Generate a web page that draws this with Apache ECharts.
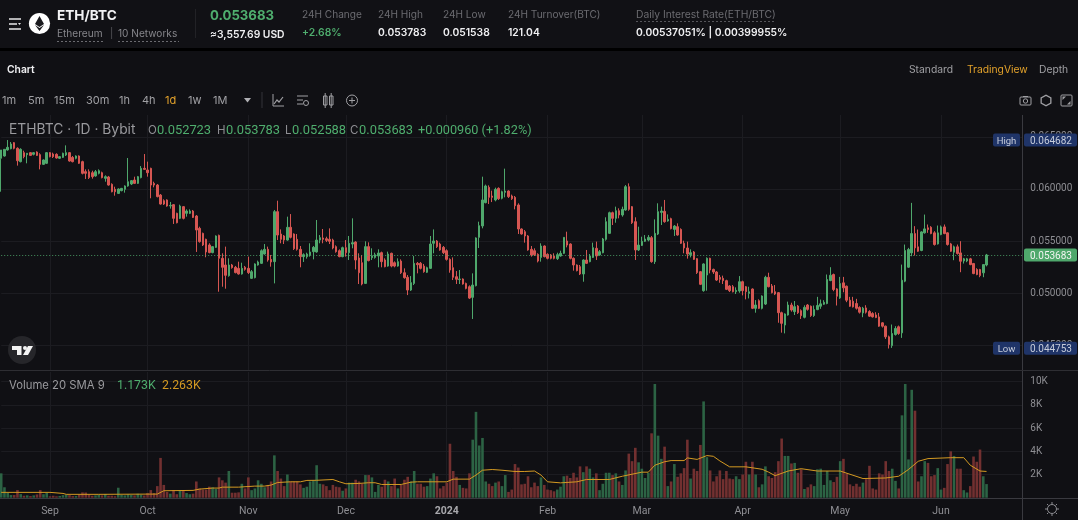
<!DOCTYPE html>
<html><head><meta charset="utf-8">
<style>html,body{margin:0;padding:0;background:#101014}#c{width:1078px;height:520px;filter:blur(0.35px)}</style>
<script src="https://cdn.jsdelivr.net/npm/echarts@6/dist/echarts.min.js"></script>
</head><body><div id="c"></div>
<script>
// prices in 1e-5 BTC, one entry per daily candle starting 2023-08-17
const opens=[6294,6316,6374,6386,6444,6390,6262,6348,6329,6348,
6332,6354,6329,6236,6246,6348,6335,6332,6294,6303,
6326,6348,6303,6294,6316,6262,6166,6166,6156,6125,
6150,6156,6102,6115,6045,5997,5958,5984,5997,6029,
6048,6086,6054,6109,6198,6182,6198,6054,6038,5942,
5888,5895,5837,5850,5767,5719,5831,5767,5767,5789,
5741,5623,5575,5518,5464,5391,5441,5556,5336,5272,
5170,5272,5250,5240,5186,5250,5240,5144,5151,5272,
5288,5377,5422,5326,5304,5783,5569,5550,5511,5633,
5569,5518,5422,5352,5352,5368,5400,5397,5511,5531,
5524,5518,5511,5448,5409,5352,5438,5390,5473,5492,
5339,5294,5096,5448,5342,5345,5358,5390,5320,5262,
5384,5294,5262,5310,5198,5154,5032,5096,5288,5288,
5262,5202,5240,5480,5502,5473,5441,5409,5326,5246,
5160,5132,5138,5096,5064,4962,5074,5537,5646,5869,
6016,5933,5895,6006,5911,5968,5981,5933,5920,5847,
5617,5591,5550,5422,5409,5374,5345,5454,5374,5368,
5358,5333,5358,5384,5502,5473,5336,5272,5256,5186,
5320,5304,5345,5432,5368,5390,5518,5575,5773,5719,
5792,5751,5799,6022,5831,5687,5416,5460,5499,5511,
5534,5304,5569,5776,5786,5694,5716,5613,5639,5613,
5480,5435,5371,5397,5333,5208,5026,5176,5336,5230,
5205,5154,5144,5122,5071,5064,5016,5023,5112,5064,
5000,5042,4857,4930,4857,4898,5154,5071,5016,5007,
4815,4697,4793,4889,4825,4879,4835,4771,4889,4877,
4788,4845,4877,4896,4903,5123,5181,5043,4957,5101,
5069,4935,4925,4903,4865,4813,4861,4826,4807,4794,
4775,4718,4686,4584,4500,4606,4680,4622,5117,5251,
5388,5573,5446,5411,5580,5628,5634,5580,5474,5564,
5637,5580,5474,5395,5446,5388,5311,5311,5331,5286,
5229,5229,5197,5272];
const highs=[6374,6380,6469,6450,6450,6399,6390,6367,6342,6354,
6354,6361,6342,6284,6354,6354,6348,6342,6316,6348,
6418,6354,6316,6322,6322,6271,6188,6188,6175,6182,
6188,6166,6131,6125,6054,6022,6006,6010,6035,6297,
6086,6118,6125,6220,6335,6262,6204,6070,6048,5952,
5901,5901,5876,5856,5773,5850,5837,5805,5805,5799,
5751,5639,5582,5524,5480,5454,5556,5563,5384,5448,
5336,5282,5263,5304,5294,5263,5352,5224,5288,5314,
5422,5473,5448,5368,5799,5888,5613,5559,5735,5760,
5575,5569,5454,5384,5390,5480,5454,5703,5559,5617,
5543,5623,5524,5460,5422,5448,5511,5550,5719,5499,
5384,5368,5499,5489,5432,5390,5422,5400,5336,5400,
5390,5307,5336,5326,5240,5176,5166,5358,5301,5301,
5282,5256,5550,5613,5511,5486,5454,5422,5336,5345,
5214,5224,5144,5103,5077,5192,5537,5687,6118,6042,
6035,5984,6013,6016,5984,6195,5987,5946,5933,5863,
5623,5607,5559,5454,5432,5384,5480,5460,5384,5377,
5384,5390,5409,5537,5591,5480,5345,5278,5272,5326,
5416,5377,5486,5496,5416,5531,5729,5783,5783,5831,
5815,5831,6038,6054,5837,5729,5639,5543,5559,5559,
5550,5709,5863,5831,5895,5757,5725,5655,5671,5623,
5505,5496,5422,5406,5339,5214,5288,5345,5342,5237,
5214,5176,5170,5131,5080,5080,5058,5166,5122,5071,
5064,5048,4936,4943,4981,5169,5198,5090,5080,5013,
4825,4809,4921,4911,4927,4889,4847,4886,4898,4884,
4884,4967,4941,4935,5181,5251,5190,5050,5158,5158,
5075,4967,4967,4948,4877,4871,4887,4839,4820,4820,
4813,4724,4692,4596,4702,4686,4692,5276,5468,5436,
5867,5644,5612,5596,5755,5660,5644,5596,5650,5650,
5660,5586,5484,5458,5468,5500,5340,5340,5340,5292,
5241,5235,5276,5378];
const lows=[5974,6310,6367,6380,6380,6224,6255,6294,6246,6316,
6322,6316,6188,6230,6240,6303,6297,6291,6287,6297,
6316,6262,6255,6284,6240,6140,6096,6096,6099,6118,
6140,6102,6070,6032,5968,5936,5952,5978,5965,6022,
6038,6048,6048,6102,6182,6118,5911,6016,5920,5850,
5847,5831,5812,5665,5671,5712,5709,5735,5760,5722,
5397,5486,5454,5346,5384,5384,5435,5016,5064,5045,
5160,5237,5192,5180,5180,5218,5186,5138,5144,5266,
5282,5371,5304,5256,5096,5511,5480,5473,5505,5527,
5416,5410,5250,5301,5333,5352,5326,5390,5480,5480,
5492,5473,5422,5390,5346,5346,5352,5320,5432,5230,
5090,5077,5090,5307,5320,5333,5250,5250,5250,5256,
5250,5250,5256,5186,5141,4984,5023,5080,5192,5230,
5198,5195,5234,5384,5435,5409,5377,5314,5198,5128,
5090,5090,5084,5039,4946,4755,5067,5435,5623,5863,
5856,5875,5882,5895,5901,5920,5914,5895,5805,5569,
5563,5486,5409,5352,5358,5297,5304,5345,5326,5326,
5326,5320,5352,5377,5441,5326,5218,5211,5176,5112,
5282,5298,5339,5320,5361,5384,5505,5569,5655,5677,
5719,5735,5792,5792,5665,5320,5406,5454,5492,5499,
5294,5282,5559,5655,5677,5687,5613,5550,5553,5473,
5384,5333,5345,5320,5186,5080,5016,5026,5192,5186,
5119,5102,5090,5032,5013,5010,4994,5006,4981,4943,
4952,4850,4815,4850,4847,4889,5058,5000,4984,4719,
4624,4617,4787,4825,4793,4803,4755,4761,4835,4775,
4775,4839,4852,4890,4896,5117,5021,4884,4948,5011,
4916,4871,4865,4845,4807,4772,4807,4775,4769,4763,
4680,4673,4564,4472,4478,4596,4603,4574,5107,5245,
5356,5363,5398,5404,5573,5580,5567,5458,5468,5557,
5567,5458,5398,5318,5372,5203,5286,5299,5270,5184,
5174,5155,5155,5259];
const closes=[6374,6380,6399,6431,6390,6271,6380,6310,6342,6322,
6348,6322,6236,6278,6348,6310,6310,6297,6310,6342,
6348,6268,6262,6316,6246,6150,6150,6109,6118,6166,
6175,6109,6118,6038,5974,5974,6000,6006,6029,6070,
6080,6054,6118,6198,6188,6156,6038,6038,5927,5856,
5856,5837,5843,5719,5677,5837,5719,5789,5789,5728,
5607,5496,5464,5397,5391,5448,5550,5336,5250,5173,
5272,5247,5199,5186,5240,5231,5199,5208,5282,5301,
5409,5422,5320,5301,5783,5559,5518,5511,5633,5537,
5428,5422,5352,5371,5377,5397,5441,5511,5534,5518,
5508,5499,5435,5400,5352,5438,5390,5480,5486,5320,
5198,5090,5448,5314,5361,5371,5387,5304,5256,5377,
5262,5262,5304,5198,5151,5032,5103,5288,5275,5240,
5208,5246,5473,5502,5448,5416,5390,5326,5224,5154,
5135,5138,5090,5048,4955,5080,5531,5649,5895,6029,
5920,5920,5997,5907,5974,5981,5927,5907,5840,5617,
5569,5550,5416,5368,5371,5310,5454,5352,5336,5336,
5336,5371,5384,5537,5463,5336,5272,5218,5186,5320,
5288,5358,5438,5358,5400,5521,5687,5773,5719,5792,
5751,5805,6022,5805,5677,5416,5463,5499,5521,5537,
5304,5575,5783,5789,5687,5709,5620,5645,5559,5480,
5435,5377,5390,5326,5199,5087,5282,5336,5224,5205,
5128,5135,5122,5039,5026,5016,5029,5112,5026,5016,
5016,4857,4889,4857,4975,5154,5064,5007,4994,4815,
4713,4803,4889,4841,4873,4815,4787,4866,4847,4788,
4845,4884,4900,4915,5133,5174,5037,4973,5094,5053,
4935,4877,4871,4858,4820,4858,4820,4782,4775,4769,
4686,4686,4584,4510,4616,4664,4616,5126,5411,5420,
5573,5436,5404,5589,5618,5612,5573,5468,5580,5637,
5573,5468,5404,5446,5382,5308,5331,5331,5276,5190,
5181,5171,5276,5368];
const volumes=[2100,900,430,230,230,660,310,170,200,140,
200,280,660,300,420,120,170,120,150,220,
260,220,140,150,280,460,450,280,170,200,
260,200,320,170,170,130,860,240,200,300,
230,200,340,260,190,400,660,400,1000,3430,
1100,500,350,660,300,600,600,400,300,350,
1400,800,700,700,950,900,750,1750,1500,1300,
2300,430,430,460,1200,800,1750,650,800,1500,
1200,900,1100,1400,3650,2300,1650,1000,2000,1400,
1400,1400,1150,850,950,1400,1500,2800,1200,1150,
1000,650,1100,950,900,600,800,1300,1300,1550,
1400,1200,1950,1950,1750,500,1100,950,1550,1400,
1000,1650,800,1100,1550,1800,1400,2300,1200,1200,
950,1000,1650,2100,1850,800,1000,1300,4650,2300,
1800,1100,850,800,2100,5000,7400,4500,5150,1400,
1200,1000,1300,1400,1000,1950,500,700,2900,2600,
1150,1200,1850,900,1300,1000,1750,1100,700,650,
550,700,950,1850,1900,1700,2150,1750,2700,2200,
2700,2500,1750,2100,650,1200,2150,2150,1950,2100,
1400,1100,2350,3800,3150,4300,3050,2500,1700,2150,
5550,9800,5350,3350,4400,1000,1400,2900,1800,2100,
2550,5000,1650,2500,2300,4550,8300,3500,2350,1400,
1850,2350,1600,2300,1650,1600,1850,1600,2000,3100,
2000,3100,2000,900,1150,2700,1850,1700,2200,3150,
5100,3600,3600,2950,3000,2150,2450,750,900,1150,
1000,2450,2500,1100,2300,1500,1350,1800,3150,3350,
2100,1150,1000,1200,950,1300,1600,2750,800,700,
2100,2000,3150,2300,2500,1450,800,7100,9800,3300,
9300,7500,1400,1850,3150,3000,1850,1950,2550,700,
850,2900,4000,3600,2500,2500,650,450,1000,3550,
3100,4150,1850,1173];
// SMA line vertices: candle index, value in volume units
const smaDays=[0,15,19,20,30,46,48,50,59,61,65,67,68,73,78,81,83,85,89,92,94,97,102,104,106,110,113,115,117,123,126,128,137,139,144,146,148,151,154,158,161,164,166,168,172,177,180,187,191,197,199,201,204,206,210,211,214,217,219,221,224,229,234,236,238,242,246,251,258,265,272,276,279,282,285,292,296,298,301,303];
const smaValues=[460,460,370,290,290,310,310,600,630,740,830,830,910,910,1000,1000,1090,1310,1370,1370,1490,1500,1570,1370,1200,1230,1290,1290,1140,1140,1340,1370,1370,1600,1600,1950,2370,2430,2370,2260,2260,2300,1950,1370,1280,1370,1570,1570,1850,2200,2200,2800,3100,3200,3200,3430,3300,3630,3570,3170,2660,2660,2450,2200,1900,2300,2500,2300,2300,1650,1700,1850,2430,3140,3370,3450,3450,2800,2300,2263];
const monthTicks={'2023-09-01':'Sep','2023-10-01':'Oct','2023-11-01':'Nov','2023-12-01':'Dec','2024-01-01':'2024','2024-02-01':'Feb','2024-03-01':'Mar','2024-04-01':'Apr','2024-05-01':'May','2024-06-01':'Jun'};
const priceTicks=[0.045,0.05,0.055,0.06,0.065];
const volumeTicks=[2000,4000,6000,8000,10000];
const lastPrice=0.053683, highPrice=0.064682, lowPrice=0.044753;
const intervals=['1m','5m','15m','30m','1h','4h','1d','1w','1M'];

const categories=[];
for(let i=0;i<315;i++){const d=new Date(Date.UTC(2023,7,17+i));categories.push(d.toISOString().slice(0,10));}
const UP='#4FA86C',DOWN='#D65652',VUP='#2C6344',VDOWN='#723030';
const LABEL='#8E8E93',FONT='Inter, Roboto, sans-serif',AXFONT='Roboto, sans-serif';
const isTick=(i,v)=>v in monthTicks;
const chart=echarts.init(document.getElementById('c'),null,{renderer:'canvas',width:1078,height:520});
const base={
 animation:false,backgroundColor:'#101014',
 grid:[{left:1.2,width:1021.1,top:115,height:255},{left:1.2,width:1021.1,top:372,height:125.7}],
 xAxis:[0,1].map(k=>({type:'category',gridIndex:k,data:categories,boundaryGap:false,
   axisLine:{show:false},axisTick:{show:false},
   splitLine:{show:true,interval:isTick,lineStyle:{color:'#1C1C21',width:1}},
   axisLabel:{show:k===1,interval:isTick,margin:8,color:LABEL,fontFamily:AXFONT,fontSize:10.5,hideOverlap:false,
     formatter:v=>v==='2024-01-01'?'{b|2024}':(monthTicks[v]||''),rich:{b:{fontWeight:'bold',fontSize:10.5,color:'#A8A8AC',fontFamily:AXFONT}}}})),
 yAxis:[
  {type:'value',gridIndex:0,position:'right',min:0.042663,max:0.067088,scale:true,
   axisLine:{show:false},axisTick:{show:false,customValues:priceTicks},
   splitLine:{show:true,lineStyle:{color:'#1C1C21',width:1}},
   axisLabel:{customValues:priceTicks,margin:8,padding:[5,0,0,0],color:LABEL,fontFamily:AXFONT,fontSize:10,formatter:v=>v.toFixed(6)}},
  {type:'value',gridIndex:1,position:'right',min:0,max:10836,
   axisLine:{show:false},axisTick:{show:false,customValues:volumeTicks},
   splitLine:{show:true,lineStyle:{color:'#1C1C21',width:1}},
   axisLabel:{customValues:volumeTicks,margin:8,padding:[4,0,0,0],color:LABEL,fontFamily:AXFONT,fontSize:10,formatter:v=>(v/1000)+'K'}}
 ],
 series:[
  {type:'candlestick',xAxisIndex:0,yAxisIndex:0,barWidth:2,
   data:opens.map((o,i)=>[o/1e5,closes[i]/1e5,lows[i]/1e5,highs[i]/1e5]),
   itemStyle:{color:UP,color0:DOWN,borderColor:UP,borderColor0:DOWN,borderWidth:1},
   markLine:{silent:true,symbol:'none',precision:6,label:{show:false},animation:false,
     lineStyle:{color:UP,type:[1,2],width:1,opacity:.85},data:[{yAxis:lastPrice}]}},
  {type:'bar',xAxisIndex:1,yAxisIndex:1,barWidth:2.6,
   data:volumes.map((v,i)=>({value:v,itemStyle:{color:closes[i]>=opens[i]?VUP:VDOWN}}))},
  {type:'line',xAxisIndex:1,yAxisIndex:1,symbol:'none',smooth:false,
   lineStyle:{color:'#D49A22',width:1},z:5,
   data:smaDays.map((d,i)=>[d,smaValues[i]])}
 ]
};
chart.setOption(base);

const T=(x,y,text,fill,size,weight,align,font)=>({type:'text',silent:true,z:50,x,y:y+0.6,style:{text,fill,
  font:(weight||'normal')+' '+size+'px '+(font||FONT),textAlign:align||'left',textVerticalAlign:'middle'}});
const R=(x,y,w,h,fill,r)=>({type:'rect',silent:true,z:40,shape:{x,y,width:w,height:h,r:r||0},style:{fill}});
const L=(x1,y1,x2,y2,stroke,w,dash)=>({type:'line',silent:true,z:41,shape:{x1,y1,x2,y2},style:{stroke,lineWidth:w||1,lineDash:dash||null}});
const C=(cx,cy,r,fill,stroke,w)=>({type:'circle',silent:true,z:42,shape:{cx,cy,r},style:{fill:fill||'none',stroke:stroke||null,lineWidth:w||1}});
const P=(pts,fill)=>({type:'polygon',silent:true,z:43,shape:{points:pts},style:{fill}});
const GR='#6B6B70',WH='#E8E8EA',GE='#4FAE6E',OR='#E3A22B',TB='#A0A0A4';
const HS=10.1;
const el=[];
// header
el.push(R(0,0,1078,48,'#111115'),R(0,48,1078,3,'#000000'));
el.push(L(9,19,21,19,WH,1.5),L(9,24,17,24,WH,1.5),L(9,29,21,29,WH,1.5),P([[18,23],[21,23],[19.5,25]],WH));
el.push(C(39.5,23.5,10.6,'#FFFFFF'),P([[39.5,16],[44,24],[39.5,27],[35,24]],'#1A1A1E'),P([[35,25],[39.5,28],[44,25],[39.5,31]],'#1A1A1E'));
el.push(T(57,15,'ETH/BTC','#F2F2F4',13.6,'bold'));
el.push(T(57,33,'Ethereum','#85858A',HS));
el.push(L(57,41.5,104,41.5,'#6B6B70',1,[2,2]));
el.push(T(110,33,'|','#55555A',HS));
el.push(T(118,33,'10 Networks','#85858A',HS));
el.push(L(118,41.5,179,41.5,'#6B6B70',1,[2,2]));
el.push(L(195.5,9,195.5,38,'#222226',1));
el.push(T(210,15,'0.053683',GE,13.2,'bold'));
el.push(T(210,34,'≈3,557.69 USD','#F0F0F2',10.3,'600'));
el.push(T(302,14,'24H Change',GR,HS));
el.push(T(302,32.5,'+2.68%',GE,10.3,'600'));
el.push(T(378,14,'24H High',GR,HS));
el.push(T(378,32.5,'0.053783','#F0F0F2',10.3,'600'));
el.push(T(443,14,'24H Low',GR,HS));
el.push(T(443,32.5,'0.051538','#F0F0F2',10.3,'600'));
el.push(T(508,14,'24H Turnover(BTC)',GR,HS));
el.push(T(508,32.5,'121.04','#F0F0F2',10.3,'600'));
el.push(T(636,14,'Daily Interest Rate(ETH/BTC)',GR,10.3));
el.push(L(636,21.5,774,21.5,'#55555A',1,[2,2]));
el.push(T(636,32.5,'0.00537051% | 0.00399955%','#F0F0F2',10.3,'600'));
// tabs
el.push(T(7,69,'Chart','#F0F0F2',10.3,'600'));
el.push(T(909,69,'Standard',TB,10.3),T(967,69,'TradingView',OR,10.3),T(1039,69,'Depth',TB,10.3));
// toolbar
const ix=[2,28,54,86,119,142,165,188,213];
intervals.forEach((t,i)=>el.push(T(ix[i],100,t,t==='1d'?OR:TB,11)));
el.push(P([[244,98],[251,98],[247.5,102.5]],'#B0B0B4'));
el.push(L(262,92,262,108,'#333338',1));
// indicators icons
el.push(L(273,94,273,106,TB,1),L(273,106,284,106,TB,1),{type:'polyline',silent:true,z:43,shape:{points:[[274,104],[277,100],[279,102],[283,97]]},style:{stroke:TB,fill:'none',lineWidth:1.2}});
el.push(L(297,96,308,96,TB,1),L(297,100,303,100,TB,1),L(297,104,303,104,TB,1),C(306,103,2.5,null,TB,1));
el.push({type:'rect',silent:true,z:43,shape:{x:323.5,y:96,width:3.5,height:9},style:{fill:'none',stroke:TB}},{type:'rect',silent:true,z:43,shape:{x:329.5,y:96,width:3.5,height:9},style:{fill:'none',stroke:TB}},L(325.2,93,325.2,108,TB,1),L(331.2,93,331.2,108,TB,1));
el.push(C(352,100.5,5.5,null,TB,1),L(349,100.5,355,100.5,TB,1),L(352,97.5,352,103.5,TB,1));
// right icons
el.push({type:'rect',silent:true,z:43,shape:{x:1020,y:97,width:11,height:8,r:1},style:{fill:'none',stroke:TB}},C(1025.5,101,2.2,null,TB,1),L(1023,96.5,1028,96.5,TB,1));
el.push(P([[1046,94.5],[1051.5,97.5],[1051.5,103.5],[1046,106.5],[1040.5,103.5],[1040.5,97.5]],'#A0A0A4'),P([[1046,96],[1050.2,98.3],[1050.2,102.7],[1046,105],[1041.8,102.7],[1041.8,98.3]],'#101014'),C(1046,100.5,2,null,TB,1));
el.push({type:'rect',silent:true,z:43,shape:{x:1061,y:95,width:11,height:11,r:1},style:{fill:'none',stroke:TB}},P([[1062.5,96.5],[1066,96.5],[1062.5,100]],TB),P([[1070.5,104.5],[1067,104.5],[1070.5,101]],TB));
// legends
const VS=12.9;
el.push(T(9,129.5,'ETHBTC · 1D · Bybit','#9A9A9E',13.8));
el.push(T(148,130,'O',LABEL,11.5),T(157,130,'0.052723',GE,VS,'normal','left',AXFONT));
el.push(T(217,130,'H',LABEL,11.5),T(226,130,'0.053783',GE,VS,'normal','left',AXFONT));
el.push(T(285,130,'L',LABEL,11.5),T(292,130,'0.052588',GE,VS,'normal','left',AXFONT));
el.push(T(350,130,'C',LABEL,11.5),T(359,130,'0.053683',GE,VS,'normal','left',AXFONT));
el.push(T(418,130,'+0.000960 (+1.82%)',GE,12.7,'normal','left',AXFONT));
el.push(T(9,385,'Volume 20 SMA 9','#9A9A9E',11.3));
el.push(T(117,385,'1.173K',GE,12.3,'normal','left',AXFONT),T(162,385,'2.263K','#D49A22',12.3,'normal','left',AXFONT));
// separators
el.push(L(1022.5,115,1022.5,520,'#3A3A40',1),L(0,370.5,1078,370.5,'#2E2E33',1),L(0,498.5,1078,498.5,'#3A3A40',1));
// TV badge
el.push(C(22,350,14,'#26262A'));
el.push(P([[12,346],[21.5,346],[21.5,355],[17,355],[17,350],[12,350]],'#F4F4F4'),C(25,348,2,'#F4F4F4'),P([[28,346],[33,346],[28,355],[23,355]],'#F4F4F4'));
// gear
el.push(C(1052,509,4.5,null,'#8E8E93',1));
[[1052,502,1052,504],[1052,514,1052,516],[1045,509,1047,509],[1057,509,1059,509],[1047,504,1048.4,505.4],[1055.6,512.6,1057,514],[1057,504,1055.6,505.4],[1048.4,512.6,1047,514]].forEach(a=>el.push(L(a[0],a[1],a[2],a[3],'#8E8E93',1)));
// price tags follow the axis scale
const yOf=v=>chart.convertToPixel({yAxisIndex:0},v);
const tag=(v,name,fill,vs,txt)=>{const y=yOf(v);
 el.push(R(1024,y-6.5,53,13,fill,2),T(1030,y+.5,vs,txt,10,'normal','left',AXFONT));
 if(name){el.push(R(993,y-6.5,27,13,fill,2),T(1006.5,y+.5,name,'#C6CCDA',9.5,'normal','center',AXFONT));}};
tag(highPrice,'High','#1F3468',highPrice.toFixed(6),'#C6CCDA');
tag(lowPrice,'Low','#1F3468',lowPrice.toFixed(6),'#C6CCDA');
tag(lastPrice,null,UP,lastPrice.toFixed(6),'#F0F4F0');
chart.setOption({graphic:{elements:el}});
</script></body></html>
